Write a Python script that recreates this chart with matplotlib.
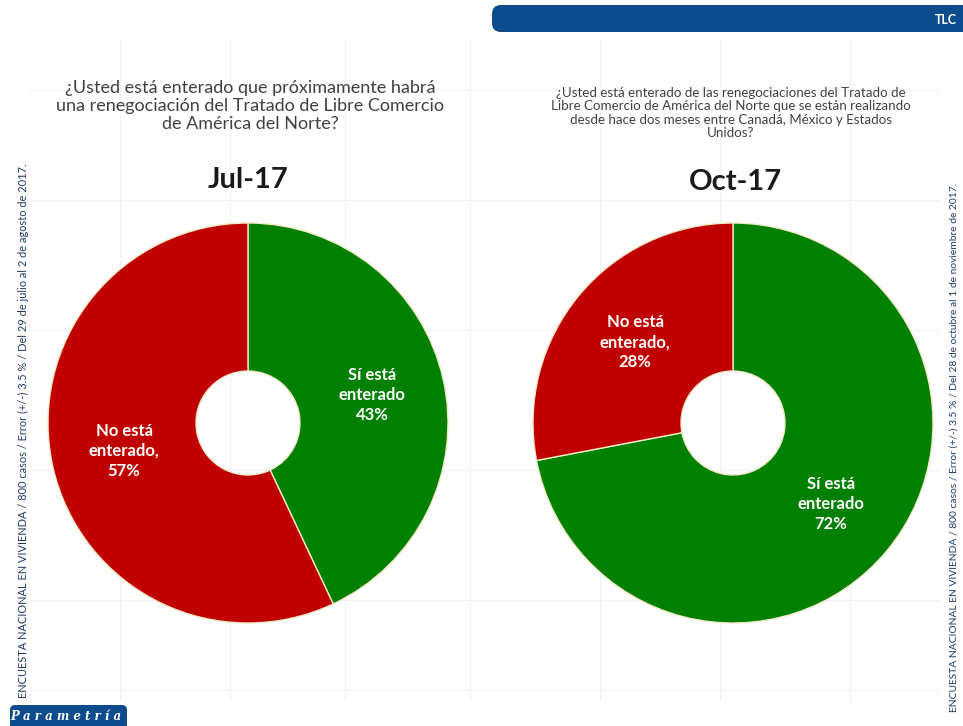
import matplotlib
matplotlib.use("Agg")
import matplotlib.pyplot as plt
from matplotlib.patches import FancyBboxPatch

# ---- data ----
periods = ["Jul-17", "Oct-17"]
categories = ["Sí está enterado", "No está enterado"]
values_jul = [43, 57]
values_oct = [72, 28]
labels_jul = ["Sí está\nenterado\n43%", "No está\nenterado,\n57%"]
labels_oct = ["Sí está\nenterado\n72%", "No está\nenterado,\n28%"]
colors = ["#008000", "#C00000"]
question_jul = ("¿Usted está enterado que próximamente habrá\n"
                "una renegociación del Tratado de Libre Comercio\n"
                "de América del Norte?")
question_oct = ("¿Usted está enterado de las renegociaciones del Tratado de\n"
                "Libre Comercio de América del Norte que se están realizando\n"
                "desde hace dos meses entre Canadá, México y Estados\n"
                "Unidos?")
note_jul = ("ENCUESTA NACIONAL EN VIVIENDA / 800 casos / Error (+/-) 3.5 % / "
            "Del 29 de julio al 2 de agosto de 2017.")
note_oct = ("ENCUESTA NACIONAL EN VIVIENDA / 800 casos / Error (+/-) 3.5 % / "
            "Del 28 de octubre al 1 de noviembre de 2017.")

W, H = 963, 726
fig = plt.figure(figsize=(W / 100, H / 100), dpi=100)
fig.patch.set_facecolor("white")

# background / decoration axes in pixel coordinates
bg = fig.add_axes([0, 0, 1, 1])
bg.set_xlim(0, W)
bg.set_ylim(H, 0)
bg.axis("off")

# faint watermark grid lines
for x in [120, 230, 345, 470, 600, 720, 850]:
    bg.plot([x, x], [40, 700], color="#F0F2F6", lw=0.8, zorder=0)
for y in [90, 200, 330, 470, 600, 690]:
    bg.plot([30, 940], [y, y], color="#F0F2F6", lw=0.8, zorder=0)

# top banner
bg.add_patch(FancyBboxPatch((492, 5), 480, 27, boxstyle="round,pad=0,rounding_size=9",
                            facecolor="#0D4C8C", edgecolor="none", zorder=2))
bg.text(957, 20, "TLC", color="white", fontsize=9, fontweight="bold",
        family="Lato", ha="right", va="center", zorder=3)

# bottom-left logo
bg.add_patch(FancyBboxPatch((10, 705), 117, 30, boxstyle="round,pad=0,rounding_size=5",
                            facecolor="#0D4C8C", edgecolor="none", zorder=2))
bg.text(66, 716, "P a r a m e t r í a", color="white", fontsize=8.5, fontweight="bold",
        style="italic", family="DejaVu Serif", ha="center", va="center", zorder=3)

# questions
bg.text(250, 106, question_jul, ha="center", va="center", fontsize=13,
        family="Lato", color="#404040", linespacing=1.15)
bg.text(731, 113, question_oct, ha="center", va="center", fontsize=9.6,
        family="Lato", color="#404040", linespacing=1.15)

# period titles
bg.text(248, 180, periods[0], ha="center", va="center", fontsize=21,
        fontweight="bold", family="Lato", color="#1a1a1a")
bg.text(735, 182, periods[1], ha="center", va="center", fontsize=21,
        fontweight="bold", family="Lato", color="#1a1a1a")

# side notes
bg.text(23, 431, note_jul, rotation=90, ha="center", va="center", fontsize=7.9,
        family="Lato", color="#1F3864")
bg.text(954, 447, note_oct, rotation=90, ha="center", va="center", fontsize=7.4,
        family="Lato", color="#1F3864")


def donut(cx, cy, r, values, labels):
    ax = fig.add_axes([(cx - r) / W, 1 - (cy + r) / H, 2 * r / W, 2 * r / H])
    wedges, texts = ax.pie(values, colors=colors, startangle=90, counterclock=False,
                           radius=1, labels=labels, labeldistance=0.635,
                           wedgeprops=dict(width=0.74, edgecolor="#F3E9C6", linewidth=1.0))
    for t in texts:
        t.set_ha("center")
        t.set_va("center")
        t.set_color("white")
        t.set_fontweight("bold")
        t.set_fontsize(12)
        t.set_family("Lato")
        t.set_linespacing(1.3)
    ax.set_xlim(-1, 1)
    ax.set_ylim(-1, 1)
    ax.set_aspect("equal")
    ax.axis("off")
    return ax


donut(248, 423, 200, values_jul, labels_jul)
donut(733, 423, 200, values_oct, labels_oct)

fig.savefig("out.png", dpi=100)
